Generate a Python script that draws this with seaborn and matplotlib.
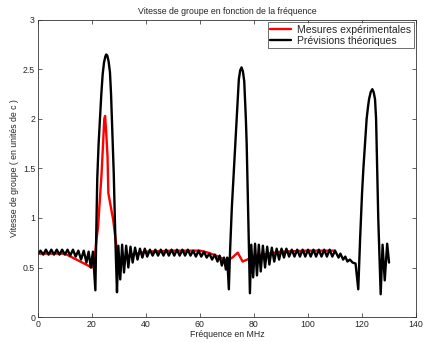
import matplotlib
matplotlib.use("Agg")
import matplotlib.pyplot as plt
import seaborn as sns

# Red curve: measurements
mes_x = [0, 10, 20, 21.1, 21.7, 22.3, 23.6, 24.6, 24.9, 25.4, 25.8, 26.1, 27.9, 29.1, 30,
         35, 40, 50, 60, 63, 66, 70, 72, 74, 75.8, 80, 85, 90, 100, 110]
mes_y = [0.64, 0.64, 0.5, 0.6, 0.78, 0.91, 1.45, 2.0, 2.03, 1.82, 1.62, 1.25, 0.98, 0.71, 0.58,
         0.63, 0.66, 0.67, 0.67, 0.65, 0.62, 0.57, 0.6, 0.65, 0.56, 0.61, 0.64, 0.66, 0.67, 0.67]

# Black curve: theory (one line of x and y per stretch)
th_x = (
    [0, 1, 2, 3, 4, 5, 6, 7, 8, 9, 10, 11, 12, 13, 14, 15, 16, 17, 18, 18.8, 19.6, 20.4]
    + [21.3, 21.6, 22.0, 22.5, 23.0, 23.5, 24.0, 24.5, 25.0, 25.3, 25.7, 26.2, 26.7, 27.1, 27.4, 27.8, 28.1, 28.5, 28.9]
    + [29.3, 29.8, 30.5, 31.2, 31.9, 32.7, 33.5, 34.3, 35.1, 36.0, 36.9, 37.8, 38.7, 39.6]
    + [40.5, 41.5, 42.5, 43.5, 44.5, 45.5, 46.5, 47.5, 48.5, 49.5, 50.5, 51.5, 52.5, 53.5]
    + [54.5, 55.5, 56.5, 57.5, 58.5, 59.5, 60.5, 61.5, 62.5, 63.5, 64.5, 65.5, 66.5, 67.3, 68.1, 68.9, 69.6, 70.1]
    + [70.7, 71.2, 71.8, 72.6, 73.1, 73.6, 74.0, 74.4, 74.9, 75.4, 75.9, 76.4, 76.7, 77.0, 77.3, 77.5, 77.9]
    + [78.5, 79.0, 79.7, 80.4, 81.1, 81.8, 82.5, 83.3, 84.1, 84.9, 85.7, 86.6, 87.5, 88.4, 89.3, 90.2, 91.1, 92.0]
    + [93, 94, 95, 96, 97, 98, 99, 100, 101, 102, 103, 104, 105, 106, 107, 108, 109, 110]
    + [111.3, 112, 113, 113.8, 114.6, 115.5, 116.5, 117.6]
    + [118.6, 119.3, 120.0, 120.5, 121.1, 121.7, 122.2, 122.6, 123.2, 123.8, 124.3, 124.8, 125.2, 125.4, 125.6, 126.0]
    + [126.9, 127.6, 128.4, 129.3, 130.0]
)
th_y = (
    [0.64, 0.67, 0.63, 0.68, 0.63, 0.68, 0.63, 0.68, 0.63, 0.68, 0.63, 0.68, 0.62, 0.68, 0.61, 0.67, 0.58, 0.67, 0.55, 0.66, 0.5, 0.66]
    + [0.27, 0.8, 1.4, 1.75, 2.0, 2.25, 2.45, 2.57, 2.63, 2.65, 2.64, 2.58, 2.47, 2.25, 2.0, 1.7, 1.45, 1.0, 0.6]
    + [0.25, 0.72, 0.38, 0.73, 0.45, 0.72, 0.5, 0.71, 0.55, 0.7, 0.58, 0.69, 0.6, 0.69]
    + [0.61, 0.68, 0.62, 0.68, 0.62, 0.68, 0.62, 0.68, 0.62, 0.68, 0.62, 0.68, 0.62, 0.68]
    + [0.62, 0.68, 0.62, 0.67, 0.61, 0.67, 0.61, 0.66, 0.6, 0.64, 0.58, 0.63, 0.56, 0.62, 0.52, 0.6, 0.48, 0.6]
    + [0.28, 0.7, 1.1, 1.5, 1.75, 2.0, 2.2, 2.4, 2.49, 2.52, 2.48, 2.38, 2.2, 2.0, 1.75, 1.5, 1.0]
    + [0.24, 0.73, 0.4, 0.74, 0.42, 0.73, 0.46, 0.72, 0.5, 0.71, 0.53, 0.7, 0.56, 0.69, 0.58, 0.69, 0.6, 0.69]
    + [0.61, 0.68, 0.61, 0.68, 0.61, 0.68, 0.61, 0.68, 0.61, 0.68, 0.61, 0.68, 0.61, 0.68, 0.61, 0.68, 0.61, 0.67]
    + [0.6, 0.64, 0.58, 0.61, 0.56, 0.58, 0.55, 0.54]
    + [0.28, 0.8, 1.25, 1.5, 1.75, 2.0, 2.12, 2.2, 2.27, 2.3, 2.27, 2.2, 2.0, 1.75, 1.5, 1.0]
    + [0.23, 0.73, 0.37, 0.74, 0.55]
)

x_ticks = [0, 20, 40, 60, 80, 100, 120, 140]
y_ticks = [0, 0.5, 1, 1.5, 2, 2.5, 3]
y_tick_labels = ['0', '0.5', '1', '1.5', '2', '2.5', '3']

sns.set_style("white")
plt.rcParams['font.family'] = ['Liberation Sans', 'DejaVu Sans']

fig = plt.figure(figsize=(4.25, 3.42), dpi=100)
ax = fig.add_axes([0.089, 0.073, 0.89, 0.869])

sns.lineplot(x=mes_x, y=mes_y, ax=ax, color='#ff0000', linewidth=1.7,
             estimator=None, sort=False, label='Mesures expérimentales',
             solid_joinstyle='round')
sns.lineplot(x=th_x, y=th_y, ax=ax, color='black', linewidth=1.7,
             estimator=None, sort=False, label='Prévisions théoriques',
             solid_joinstyle='round')

ax.set_xlim(0, 140)
ax.set_ylim(0, 3)
ax.set_xticks(x_ticks)
ax.set_yticks(y_ticks)
ax.set_yticklabels(y_tick_labels)
ax.tick_params(direction='in', length=3, width=0.5, labelsize=6.3, pad=2,
               top=True, right=True, bottom=True, left=True)
for s in ax.spines.values():
    s.set_linewidth(0.6)
    s.set_color('#333333')

ax.set_title('Vitesse de groupe en fonction de la fréquence', fontsize=6.3, pad=4)
ax.set_xlabel('Fréquence en MHz', fontsize=6.3, labelpad=1)
ax.set_ylabel('Vitesse de groupe ( en unités de c )', fontsize=6.3, labelpad=3)

leg = ax.legend(loc='upper right', fontsize=7.5, frameon=True, fancybox=False,
                borderaxespad=0.2, handlelength=2.0, handletextpad=0.6,
                borderpad=0.25, labelspacing=0.1)
leg.get_frame().set_edgecolor('black')
leg.get_frame().set_linewidth(0.5)

fig.savefig('out.png', dpi=100)
